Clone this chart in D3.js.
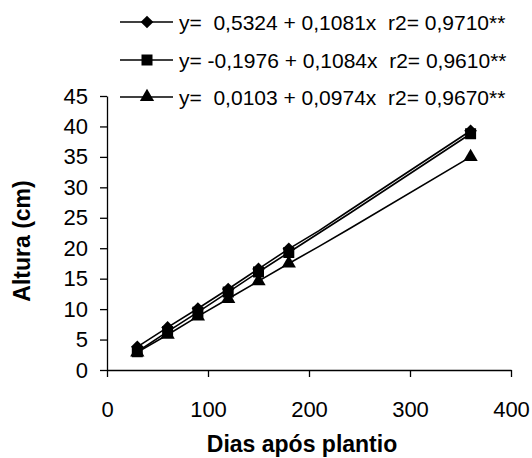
<!DOCTYPE html>
<html>
<head>
<meta charset="utf-8">
<script src="https://cdn.jsdelivr.net/npm/d3@7"></script>
<style>
  body { margin: 0; background: #fff; }
  svg { display: block; font-family: "Liberation Sans", Arial, sans-serif; }
  .axis path, .axis line { stroke: #000; stroke-width: 1.3; }
  .axis text { font-size: 22px; fill: #000; }
</style>
</head>
<body>
<svg id="chart" width="532" height="458"></svg>
<script>
const dias = [30, 60, 90, 120, 150, 180, 210, 240, 360];
const diasMarcados = [30, 60, 90, 120, 150, 180, 360];
const alturaLosango = [3.8, 7.0, 10.1, 13.3, 16.6, 19.9, 22.9, 26.2, 39.3];
const alturaQuadrado = [3.0, 6.3, 9.5, 12.8, 16.1, 19.3, 22.5, 25.7, 38.8];
const alturaTriangulo = [2.9, 5.8, 8.8, 11.7, 14.6, 17.5, 20.3, 23.2, 35.0];
const equacoes = [
  "y=  0,5324 + 0,1081x  r2= 0,9710**",
  "y= -0,1976 + 0,1084x  r2= 0,9610**",
  "y=  0,0103 + 0,0974x  r2= 0,9670**"
];
const xTicks = [0, 100, 200, 300, 400];
const yTicks = [0, 5, 10, 15, 20, 25, 30, 35, 40, 45];

const svg = d3.select("#chart");
const x = d3.scaleLinear().domain([0, 400]).range([107, 511]);
const y = d3.scaleLinear().domain([0, 45]).range([370, 96]);

const series = [
  { valores: alturaLosango, simbolo: d3.symbolSquare, size: 80, rot: 45 },
  { valores: alturaQuadrado, simbolo: d3.symbolSquare, size: 121, rot: 0 },
  { valores: alturaTriangulo, simbolo: d3.symbolTriangle, size: 88, rot: 0 }
];

// axes
svg.append("g")
  .attr("class", "axis")
  .attr("transform", "translate(0,370)")
  .call(d3.axisBottom(x).tickValues(xTicks).tickSize(7).tickPadding(24).tickSizeOuter(0));

svg.append("g")
  .attr("class", "axis")
  .attr("transform", "translate(107,0)")
  .call(d3.axisLeft(y).tickValues(yTicks).tickSize(7).tickPadding(12).tickSizeOuter(0));

// titles
svg.append("text")
  .attr("x", 302).attr("y", 452)
  .attr("text-anchor", "middle")
  .attr("font-size", 23).attr("font-weight", "bold")
  .text("Dias após plantio");

svg.append("text")
  .attr("transform", "translate(30,241) rotate(-90)")
  .attr("text-anchor", "middle")
  .attr("font-size", 23).attr("font-weight", "bold")
  .text("Altura (cm)");

const line = d3.line()
  .x((d, i) => x(dias[i]))
  .y(d => y(d));

series.forEach(s => {
  svg.append("path")
    .attr("d", line(s.valores))
    .attr("fill", "none")
    .attr("stroke", "#000")
    .attr("stroke-width", 1.6);
});

series.forEach(s => {
  const sym = d3.symbol().type(s.simbolo).size(s.size);
  svg.append("g").selectAll("path")
    .data(dias.map((d, i) => [d, s.valores[i]]).filter(p => diasMarcados.includes(p[0])))
    .join("path")
    .attr("d", sym)
    .attr("transform", p => `translate(${x(p[0])},${y(p[1])}) rotate(${s.rot})`)
    .attr("fill", "#000");
});

// legend
const legend = svg.append("g");
const rowY = [22, 60, 97];
series.forEach((s, i) => {
  const g = legend.append("g").attr("transform", `translate(0,${rowY[i]})`);
  g.append("line")
    .attr("x1", 120).attr("x2", 173)
    .attr("stroke", "#000").attr("stroke-width", 1.6);
  g.append("path")
    .attr("d", d3.symbol().type(s.simbolo).size(s.size))
    .attr("transform", `translate(147,0) rotate(${s.rot})`)
    .attr("fill", "#000");
  g.append("text")
    .attr("x", 179).attr("y", 7.5)
    .attr("font-size", 21)
    .style("white-space", "pre")
    .text(equacoes[i]);
});
</script>
</body>
</html>
